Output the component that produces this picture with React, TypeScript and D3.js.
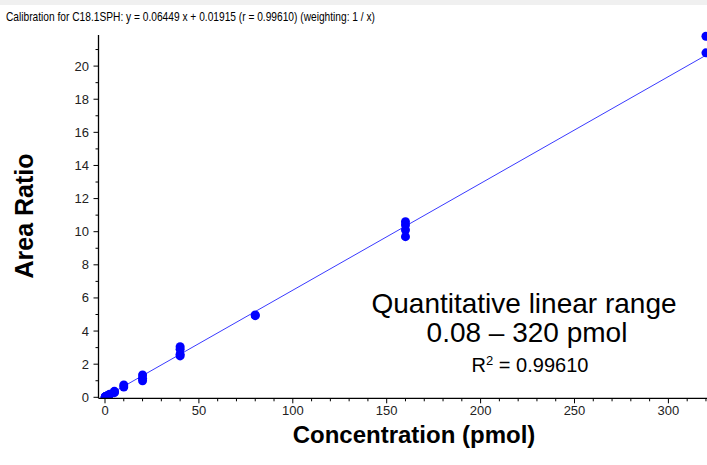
import React from "react";
import * as d3 from "d3";

const TITLE = "Calibration for C18.1SPH: y = 0.06449 x + 0.01915 (r = 0.99610)  (weighting: 1 / x)";
const SLOPE = 0.06449;
const INTERCEPT = 0.01915;

const concentrations = [0.08, 0.08, 0.16, 0.16, 0.31, 0.31, 0.63, 0.63, 1.25, 1.25, 2.5, 2.5, 5, 5, 5, 10, 10, 20, 20, 20, 40, 40, 40, 40, 80, 80, 160, 160, 160, 160, 320, 320];
const areaRatios = [0.01, 0.012, 0.015, 0.02, 0.03, 0.035, 0.05, 0.06, 0.09, 0.1, 0.16, 0.19, 0.28, 0.33, 0.36, 0.62, 0.74, 1.0, 1.15, 1.35, 2.5, 2.6, 2.9, 3.05, 4.93, 4.97, 9.7, 10.1, 10.4, 10.6, 20.8, 21.8];

const xMajorTicks = [0, 50, 100, 150, 200, 250, 300];
const yMajorTicks = [0, 2, 4, 6, 8, 10, 12, 14, 16, 18, 20];

const W = 707;
const H = 465;

export default function App() {
  const x = d3.scaleLinear().domain([0, 300]).range([105, 668.4]);
  const y = d3.scaleLinear().domain([0, 20]).range([397.3, 66.1]);
  const axisX = 98.5;
  const axisY = 398.3;
  const yTop = 35;

  const xMinor = d3.range(0, 330, 10);
  const yMinor = d3.range(0, 22, 1);

  const line = d3
    .line<number>()
    .x((d) => x(d))
    .y((d) => y(SLOPE * d + INTERCEPT));

  const font = "'Liberation Sans', Arial, sans-serif";

  return (
    <div style={{ position: "fixed", left: 0, top: 0 }}>
      <svg width={W} height={H} style={{ display: "block", background: "#fff" }}>
        <rect x={0} y={0} width={W} height={5} fill="#f0f0f0" />
        <text
          x={6}
          y={21}
          fontFamily="'Liberation Sans Narrow', 'Liberation Sans', Arial, sans-serif"
          fontSize={13.5}
          fill="#000"
          textLength={369}
          lengthAdjust="spacingAndGlyphs"
        >
          {TITLE}
        </text>
        <defs>
          <clipPath id="plot">
            <rect x={axisX} y={yTop - 5} width={W - axisX} height={axisY - yTop + 5} />
          </clipPath>
        </defs>
        {/* regression line */}
        <path d={line([0, 320]) || ""} fill="none" stroke="#3a3aff" strokeWidth={1} clipPath="url(#plot)" />
        {/* points */}
        <g clipPath="url(#plot)">
          {concentrations.map((c, i) => (
            <circle key={i} cx={x(c)} cy={y(areaRatios[i])} r={4.5} fill="#0000ff" />
          ))}
        </g>
        {/* axes */}
        <line x1={axisX} x2={axisX} y1={yTop} y2={axisY} stroke="#000" strokeWidth={1.3} />
        <line x1={axisX} x2={W} y1={axisY} y2={axisY} stroke="#000" strokeWidth={1.3} />
        {yMinor.map((v) => (
          <line key={"ym" + v} x1={axisX - (v % 2 === 0 ? 5 : 3)} x2={axisX} y1={y(v)} y2={y(v)} stroke="#000" strokeWidth={1} />
        ))}
        {xMinor.map((v) => (
          <line key={"xm" + v} x1={x(v)} x2={x(v)} y1={axisY} y2={axisY + (v % 50 === 0 ? 5 : 3)} stroke="#000" strokeWidth={1} />
        ))}
        {yMajorTicks.map((v) => (
          <text key={"yl" + v} x={89} y={y(v) + 4.5} textAnchor="end" fontFamily={font} fontSize={13} fill="#222">
            {v}
          </text>
        ))}
        {xMajorTicks.map((v) => (
          <text key={"xl" + v} x={x(v)} y={415} textAnchor="middle" fontFamily={font} fontSize={13} fill="#222">
            {v}
          </text>
        ))}
        {/* axis titles */}
        <text
          transform="translate(33,216) rotate(-90)"
          textAnchor="middle"
          fontFamily={font}
          fontWeight="bold"
          fontSize={25}
          fill="#000"
        >
          Area Ratio
        </text>
        <text x={414} y={443} textAnchor="middle" fontFamily={font} fontWeight="bold" fontSize={24} fill="#000">
          Concentration (pmol)
        </text>
        {/* annotation */}
        <text x={524} y={313} textAnchor="middle" fontFamily={font} fontSize={28} fill="#000">
          Quantitative linear range
        </text>
        <text x={527} y={342} textAnchor="middle" fontFamily={font} fontSize={28} fill="#000">
          0.08 – 320 pmol
        </text>
        <text x={530} y={372} textAnchor="middle" fontFamily={font} fontSize={20} fill="#000">
          R<tspan dy={-7} fontSize={13}>2</tspan>
          <tspan dy={7}> = 0.99610</tspan>
        </text>
      </svg>
    </div>
  );
}
